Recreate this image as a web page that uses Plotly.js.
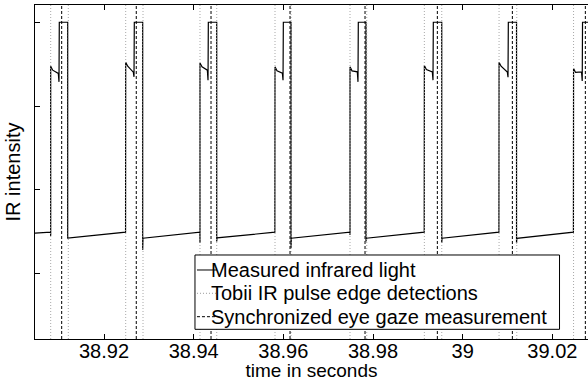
<!DOCTYPE html>
<html>
<head>
<meta charset="utf-8">
<script src="https://cdn.plot.ly/plotly-3.0.1.min.js"></script>
<style>html,body{margin:0;padding:0;background:#fff;}#chart{width:588px;height:381px;}</style>
</head>
<body>
<div id="chart"></div>
<script>
// Measured infrared light signal (time in seconds, relative IR intensity)
var sigT = [
  38.90349,
  38.90808, 38.90811, 38.90811, 38.90856, 38.90981, 38.90996, 38.91003, 38.91190, 38.91190,
  38.92481, 38.92484, 38.92529, 38.92654, 38.92669, 38.92676, 38.92863, 38.92863, 38.92870,
  38.94138, 38.94141, 38.94141, 38.94186, 38.94305, 38.94320, 38.94327, 38.94514, 38.94514, 38.94521,
  38.95811, 38.95814, 38.95859, 38.95978, 38.95993, 38.96000, 38.96171, 38.96171, 38.96178,
  38.97484, 38.97487, 38.97487, 38.97532, 38.97650, 38.97665, 38.97672, 38.97844, 38.97844, 38.97851,
  38.99142, 38.99145, 38.99190, 38.99323, 38.99338, 38.99345, 38.99533, 38.99533, 38.99540,
  39.00808, 39.00811, 39.00856, 39.00996, 39.01011, 39.01018, 39.01201, 39.01201, 39.01208,
  39.02470, 39.02473, 39.02518, 39.02651, 39.02666, 39.02673, 39.02885
];
var sigV = [
  0.4966,
  0.4993, 0.4905, 0.8952, 0.8857, 0.8779, 0.8579, 1.0000, 1.0000, 0.4850,
  0.4993, 0.9048, 0.8953, 0.8810, 0.8698, 1.0000, 1.0000, 0.4571, 0.4850,
  0.4993, 0.4738, 0.9031, 0.8936, 0.8857, 0.8619, 1.0000, 1.0000, 0.4769, 0.4857,
  0.4993, 0.8936, 0.8841, 0.8786, 0.8619, 1.0000, 1.0000, 0.4619, 0.4850,
  0.4993, 0.4929, 0.8936, 0.8841, 0.8817, 0.8579, 1.0000, 1.0000, 0.4769, 0.4850,
  0.4993, 0.8969, 0.8874, 0.8817, 0.8619, 1.0000, 1.0000, 0.4740, 0.4850,
  0.4993, 0.9048, 0.8953, 0.8810, 0.8690, 1.0000, 1.0000, 0.4731, 0.4845,
  0.4993, 0.8898, 0.8803, 0.8817, 0.8602, 1.0000, 1.0000
];
// Tobii IR pulse edge detections (s)
var edgeT = [
  38.90811, 38.91204, 38.92484, 38.92870, 38.94141, 38.94514, 38.95814, 38.96171,
  38.97487, 38.97860, 38.99145, 38.99533, 39.00811, 39.01206, 39.02473
];
// Synchronized eye gaze measurement times (s)
var gazeT = [38.91056, 38.92720, 38.94387, 38.96149, 38.97822, 38.99435, 39.01108, 39.02736];

var seriesNames = ['Measured infrared light', 'Tobii IR pulse edge detections', 'Synchronized eye gaze measurement'];
var xTickVals = [38.92, 38.94, 38.96, 38.98, 39.00, 39.02];
var xTickText = ['38.92', '38.94', '38.96', '38.98', '39', '39.02'];
var yTickVals = [0.4, 0.6, 0.8, 1.0];

var xRange = [38.90461, 39.02795];
var yRange = [0.2445, 1.0412];

function vlines(ts) {
  var x = [], y = [];
  ts.forEach(function (t) { x.push(t, t, null); y.push(yRange[0], yRange[1], null); });
  return {x: x, y: y};
}
var ev = vlines(edgeT), gv = vlines(gazeT);

var FONT = 'Liberation Sans, Arial, Helvetica, sans-serif';
var styles = [
  {color: '#000', width: 1.2, dash: 'solid'},
  {color: '#a8a8a8', width: 1, dash: '1px,2px'},
  {color: '#000', width: 1, dash: '3px,2px'}
];

var data = [
  {x: sigT, y: sigV, type: 'scatter', mode: 'lines', name: seriesNames[0], line: styles[0]},
  {x: ev.x, y: ev.y, type: 'scatter', mode: 'lines', name: seriesNames[1], line: styles[1]},
  {x: gv.x, y: gv.y, type: 'scatter', mode: 'lines', name: seriesNames[2], line: styles[2]}
];

// Legend box (paper coordinates), drawn as in the original figure
var box = {x0: 0.2893, x1: 0.9485, y0: 0.029, y1: 0.2515};
var rowY = [0.2066, 0.1368, 0.0668];
var shapes = [{type: 'rect', xref: 'paper', yref: 'paper', x0: box.x0, x1: box.x1, y0: box.y0, y1: box.y1,
  fillcolor: '#fff', line: {color: '#000', width: 1}, layer: 'above'}];
var annotations = [];
seriesNames.forEach(function (n, i) {
  shapes.push({type: 'line', xref: 'paper', yref: 'paper', x0: 0.2929, x1: 0.3291, y0: rowY[i], y1: rowY[i],
    line: {color: i === 1 ? '#999' : styles[i].color, width: 1, dash: styles[i].dash}, layer: 'above'});
  annotations.push({xref: 'paper', yref: 'paper', x: 0.3146, y: rowY[i], xanchor: 'left', yanchor: 'middle',
    text: n, showarrow: false, font: {family: FONT, size: 20, color: '#000'}});
});

var layout = {
  width: 588, height: 381,
  margin: {l: 35, r: 0, t: 5, b: 42, pad: 0},
  paper_bgcolor: '#fff', plot_bgcolor: '#fff',
  font: {family: FONT, size: 20, color: '#000'},
  showlegend: false,
  shapes: shapes,
  annotations: annotations,
  xaxis: {
    range: xRange, tickmode: 'array', tickvals: xTickVals, ticktext: xTickText,
    ticks: 'inside', ticklen: 5, tickwidth: 1, tickcolor: '#000',
    showline: true, linecolor: '#000', linewidth: 1, mirror: 'ticks',
    showgrid: false, zeroline: false, ticklabelstandoff: -6,
    tickfont: {family: FONT, size: 20, color: '#000'},
    title: {text: 'time in seconds', font: {family: FONT, size: 19, color: '#000'}, standoff: 7}
  },
  yaxis: {
    range: yRange, tickmode: 'array', tickvals: yTickVals, showticklabels: false,
    ticks: 'inside', ticklen: 5, tickwidth: 1, tickcolor: '#000',
    showline: true, linecolor: '#000', linewidth: 1, mirror: false,
    showgrid: false, zeroline: false,
    title: {text: 'IR intensity', font: {family: FONT, size: 20, color: '#000'}, standoff: 8}
  }
};

Plotly.newPlot('chart', data, layout, {staticPlot: true, displayModeBar: false});
</script>
</body>
</html>
